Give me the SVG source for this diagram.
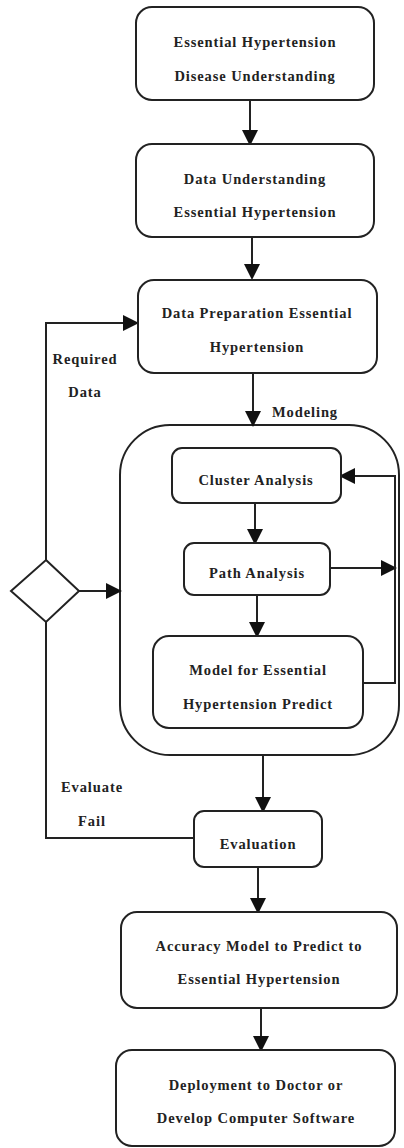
<svg xmlns="http://www.w3.org/2000/svg" width="404" height="1148" viewBox="0 0 404 1148">
<style>
.b{fill:#fff;stroke:#222;stroke-width:2}
.t{font-family:"Liberation Serif",serif;font-size:14.5px;font-weight:bold;fill:#222;text-anchor:middle;letter-spacing:0.9px}
.l{fill:none;stroke:#222;stroke-width:2}
</style>
<defs>
<marker id="a" markerWidth="8" markerHeight="8" refX="7" refY="4" orient="auto" markerUnits="strokeWidth"><path d="M0,0L8,4L0,8z" fill="#111"/></marker>
</defs>
<rect width="404" height="1148" fill="#fff"/>
<g id="modeling"><rect class="b" x="120" y="425" width="279" height="330" rx="50"/></g>
<g id="connectors">
<line class="l" x1="250" y1="100" x2="250" y2="144" marker-end="url(#a)"/>
<line class="l" x1="252" y1="237" x2="252" y2="278" marker-end="url(#a)"/>
<line class="l" x1="253" y1="373" x2="253" y2="425" marker-end="url(#a)"/>
<line class="l" x1="255" y1="503" x2="255" y2="543" marker-end="url(#a)"/>
<line class="l" x1="257" y1="595" x2="257" y2="636" marker-end="url(#a)"/>
<line class="l" x1="330" y1="568" x2="395" y2="568" marker-end="url(#a)"/>
<polyline class="l" points="363,683 395,683 395,476 341,476" marker-end="url(#a)"/>
<polyline class="l" points="46,560 46,323 137,323" marker-end="url(#a)"/>
<line class="l" x1="78" y1="591" x2="120" y2="591" marker-end="url(#a)"/>
<polyline class="l" points="194,838 46,838 46,621"/>
<line class="l" x1="263" y1="755" x2="263" y2="811" marker-end="url(#a)"/>
<line class="l" x1="258" y1="867" x2="258" y2="912" marker-end="url(#a)"/>
<line class="l" x1="261" y1="1008" x2="261" y2="1050" marker-end="url(#a)"/>
<text class="t" x="85" y="364">Required</text>
<text class="t" x="85" y="397">Data</text>
<text class="t" x="272" y="417" style="text-anchor:start">Modeling</text>
<text class="t" x="92" y="792">Evaluate</text>
<text class="t" x="92" y="826">Fail</text>
</g>
<g id="n1"><rect class="b" x="136" y="7" width="238" height="93" rx="16"/><text class="t" x="255" y="47">Essential Hypertension</text><text class="t" x="255" y="81">Disease Understanding</text></g>
<g id="n2"><rect class="b" x="136" y="144" width="238" height="93" rx="16"/><text class="t" x="255" y="184">Data Understanding</text><text class="t" x="255" y="217">Essential Hypertension</text></g>
<g id="n3"><rect class="b" x="138" y="280" width="239" height="93" rx="16"/><text class="t" x="257" y="318">Data Preparation Essential</text><text class="t" x="257" y="352">Hypertension</text></g>
<g id="n4"><rect class="b" x="172" y="448" width="169" height="55" rx="10"/><text class="t" x="256" y="485">Cluster Analysis</text></g>
<g id="n5"><rect class="b" x="184" y="543" width="146" height="52" rx="10"/><text class="t" x="257" y="578">Path Analysis</text></g>
<g id="n6"><rect class="b" x="153" y="636" width="210" height="92" rx="16"/><text class="t" x="258" y="675">Model for Essential</text><text class="t" x="258" y="709">Hypertension Predict</text></g>
<g id="decision"><polygon class="b" points="46,560 79,591 46,622 11,591"/></g>
<g id="n7"><rect class="b" x="194" y="811" width="128" height="56" rx="10"/><text class="t" x="258" y="849">Evaluation</text></g>
<g id="n8"><rect class="b" x="121" y="912" width="276" height="96" rx="16"/><text class="t" x="259" y="951">Accuracy Model to Predict to</text><text class="t" x="259" y="984">Essential Hypertension</text></g>
<g id="n9"><rect class="b" x="116" y="1050" width="279" height="96" rx="16"/><text class="t" x="256" y="1090">Deployment to Doctor or</text><text class="t" x="256" y="1123">Develop Computer Software</text></g>
</svg>
